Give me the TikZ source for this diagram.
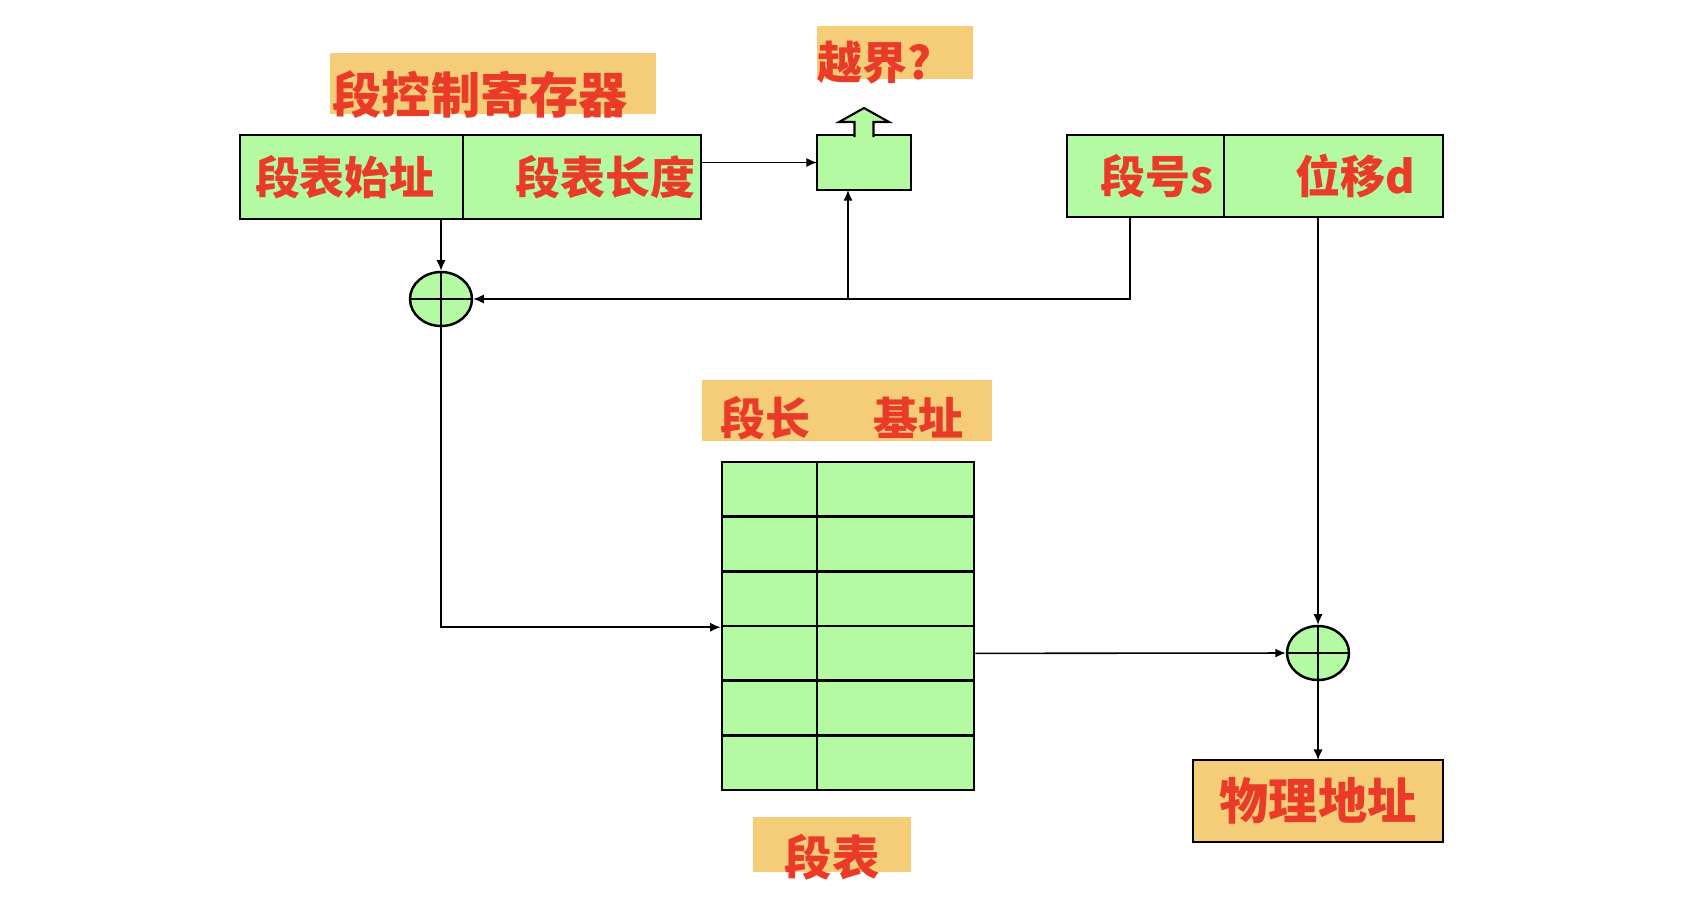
\documentclass[tikz,border=0pt]{standalone}
\usepackage{fontspec}
\newfontfamily\cjk{Noto Sans CJK SC}
\usetikzlibrary{shapes.geometric,arrows.meta}
\definecolor{cellgreen}{RGB}{179,250,163}
\definecolor{tagorange}{RGB}{245,205,120}
\definecolor{txtred}{RGB}{234,58,40}
\begin{document}
\begin{tikzpicture}[>={Latex[length=3pt,width=2.6pt]},x=1cm,y=1cm,
    box/.style={draw,line width=0.7pt,fill=cellgreen,inner ysep=0pt,outer sep=0pt,text=txtred,
      font=\cjk\bfseries\fontsize{12.8pt}{14pt}\selectfont},
    cell/.style={draw,line width=0.7pt,fill=cellgreen,minimum height=0.5467cm,inner sep=0pt},
    adder/.style={ellipse,draw,line width=0.7pt,fill=cellgreen,minimum width=0.62cm,
      minimum height=0.54cm,inner sep=0pt},
    tagbg/.style={fill=tagorange},
    tagtxt/.style={text=txtred,inner sep=0pt,anchor=west,
      font=\cjk\bfseries\fontsize{12.8pt}{14pt}\selectfont},
    tagbig/.style={tagtxt,font=\cjk\bfseries\fontsize{14pt}{16pt}\selectfont},
    link/.style={line width=0.45pt}]
  \useasboundingbox (0,0) rectangle (16.90,9.02);
  % registers
  \node[box,minimum width=2.23cm,minimum height=0.84cm,text width=1.93cm,inner xsep=0.15cm,align=left] (tbase) at (3.515,7.25) {段表始址};
  \node[box,minimum width=2.38cm,minimum height=0.84cm,text width=2.26cm,inner xsep=0.06cm,align=right,anchor=west] (tlen) at (tbase.east) {段表长度};
  \node[box,minimum width=1.57cm,minimum height=0.82cm,text width=1.35cm,inner xsep=0.11cm,align=right] (seg) at (11.455,7.26) {段号s};
  \node[box,minimum width=2.19cm,minimum height=0.82cm,text width=1.63cm,inner xsep=0.28cm,align=right,anchor=west] (disp) at (seg.east) {位移d};
  \node[box,minimum width=0.94cm,minimum height=0.55cm] (chk) at (8.64,7.395) {};
  \filldraw[line width=0.6pt,fill=cellgreen] ([xshift=-0.095cm,yshift=-0.02cm]chk.north) -- ++(0,0.15) -- ++(-0.155,0)
    -- ++(0.25,0.14) -- ++(0.25,-0.14) -- ++(-0.155,0) -- ++(0,-0.15);
  \node[adder] (add1) at (4.41,6.03) {};
  \node[adder] (add2) at (13.18,2.49) {};
  \foreach \a in {add1,add2}{
    \draw[line width=0.6pt] (\a.north) -- (\a.south) (\a.west) -- (\a.east);
  }
  % segment table
  \foreach \i in {1,...,6}{
    \node[cell,minimum width=0.95cm] (l\i) at (7.695,{4.40-(\i-0.5)*0.5467}) {};
    \node[cell,minimum width=1.57cm] (r\i) at (8.955,{4.40-(\i-0.5)*0.5467}) {};
  }
  \node[box,fill=tagorange,minimum width=2.50cm,minimum height=0.82cm,font=\cjk\bfseries\fontsize{14pt}{16pt}\selectfont] (phys) at (13.18,1.01) {物理地址};
  % labels
  \fill[tagbg] (3.30,7.88) rectangle (6.56,8.49);
  \node[tagbig] (ctrltag) at (3.32,8.07) {段控制寄存器};
  \fill[tagbg] (8.17,8.23) rectangle (9.73,8.76);
  \node[tagtxt] (overtag) at (8.17,8.39) {越界?};
  \fill[tagbg] (7.02,4.61) rectangle (9.92,5.22);
  \node[tagtxt] (lenhd) at (7.20,4.84) {段长};
  \node[tagtxt] (basehd) at (8.73,4.84) {基址};
  \fill[tagbg] (7.53,0.30) rectangle (9.11,0.85);
  \node[tagtxt,font=\cjk\bfseries\fontsize{13.5pt}{15pt}\selectfont] (tabtag) at (7.84,0.45) {段表};
  % connectors
  \coordinate (sdrop) at (11.30,6.03);
  \coordinate (fork) at (8.48,6.03);
  \draw[link,->] (tlen.east |- chk.west) -- (chk.west);
  \draw[link,->] (add1 |- tbase.south) -- (add1.north);
  \draw[link,->] (sdrop |- seg.south) -- (sdrop) -- (add1.east);
  \draw[link,->] (fork) -- (fork |- chk.south);
  \draw[link,->] (add1.south) |- (l3.south west);
  \draw[link,->] (r4.east) -- (add2.west);
  \draw[link,->] (add2 |- disp.south) -- (add2.north);
  \draw[link,->] (add2.south) -- (add2 |- phys.north);
\end{tikzpicture}
\end{document}
